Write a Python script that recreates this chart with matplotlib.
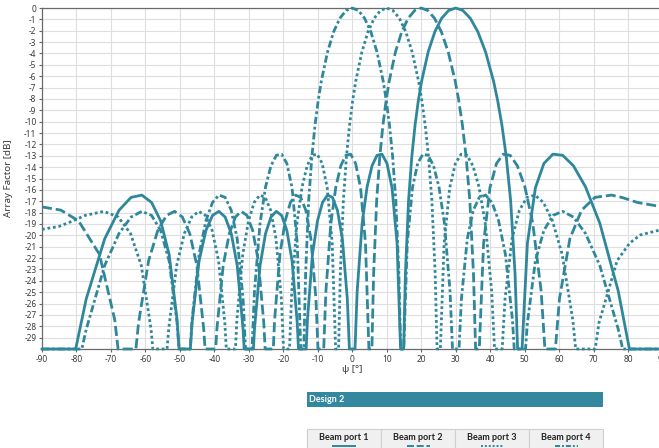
import matplotlib
matplotlib.use('Agg')
import matplotlib.pyplot as plt
from matplotlib.patches import Rectangle
from matplotlib.lines import Line2D

plt.rcParams['font.family'] = ['Noto Sans', 'DejaVu Sans']
plt.rcParams['axes.unicode_minus'] = False

# (psi [deg], array factor [dB]), clipped at -30 dB
port1 = [(-90, -30), (-80.23, -30), (-77.16, -25.58), (-71.81, -20.30), (-67.67, -17.80),
         (-64.16, -16.66), (-61.04, -16.46), (-58.21, -17.11), (-55.59, -18.72), (-53.13, -21.67),
         (-50.81, -27.43), (-50.24, -30),
         (-46.97, -30), (-46.47, -27.71), (-44.43, -22.24), (-42.45, -19.57), (-40.54, -18.25),
         (-38.68, -17.89), (-36.87, -18.39), (-35.10, -19.84), (-33.37, -22.65), (-31.67, -28.26),
         (-31.35, -30),
         (-28.67, -30), (-28.36, -28.26), (-26.74, -22.65), (-25.15, -19.84), (-23.58, -18.39),
         (-22.02, -17.89), (-20.49, -18.25), (-18.97, -19.57), (-17.46, -22.24), (-15.96, -27.71),
         (-15.60, -30),
         (-13.37, -30), (-13.00, -27.43), (-11.54, -21.67), (-10.08, -18.72), (-8.63, -17.11),
         (-7.18, -16.46), (-5.74, -16.66), (-4.30, -17.80), (-2.87, -20.30), (-1.43, -25.58),
         (-0.83, -30),
         (0.80, -30), (1.43, -24.90), (2.87, -18.93), (4.30, -15.74), (5.74, -13.88),
         (7.18, -12.96), (8.63, -12.86), (10.08, -13.68), (11.54, -15.82), (13.00, -20.70),
         (14.02, -30),
         (14.91, -30), (15.42, -23.4), (16.33, -16.95), (17.27, -13.10), (18.21, -10.33),
         (19.15, -8.19), (20.11, -6.46), (22.02, -3.87), (23.97, -2.08), (25.94, -0.90),
         (27.95, -0.22), (30, 0), (32.09, -0.22), (34.23, -0.90), (36.42, -2.08), (38.68, -3.87),
         (41.01, -6.46), (42.21, -8.19), (43.43, -10.33), (44.68, -13.10), (45.95, -16.95),
         (47.23, -23.4), (47.96, -30),
         (49.26, -30), (50.81, -20.70), (53.13, -15.82), (55.59, -13.68), (58.21, -12.86),
         (61.04, -12.96), (64.16, -13.88), (67.67, -15.74), (71.81, -18.93), (77.16, -24.90),
         (80.4, -30), (90, -30)]

port2 = [(-90, -17.5), (-84.55, -17.78), (-79.41, -18.72), (-73.33, -21.67), (-68.90, -27.43),
         (-67.93, -30),
         (-62.76, -30), (-62.00, -27.71), (-59.08, -22.24), (-56.41, -19.57), (-53.90, -18.25),
         (-51.54, -17.89), (-49.28, -18.39), (-47.14, -19.84), (-45.07, -22.65), (-43.08, -28.26),
         (-42.70, -30),
         (-39.62, -30), (-39.27, -28.26), (-37.44, -22.65), (-35.66, -19.84), (-33.91, -18.39),
         (-32.21, -17.89), (-30.53, -18.25), (-28.88, -19.57), (-27.26, -22.24), (-25.66, -27.71),
         (-25.27, -30),
         (-22.91, -30), (-22.52, -27.43), (-20.98, -21.67), (-19.45, -18.72), (-17.94, -17.11),
         (-16.44, -16.46), (-14.95, -16.66), (-13.47, -17.80), (-12.00, -20.30), (-10.54, -25.58),
         (-9.94, -30),
         (-8.28, -30), (-7.64, -24.90), (-6.20, -18.93), (-4.76, -15.74), (-3.32, -13.88),
         (-1.89, -12.96), (-0.46, -12.86), (0.98, -13.68), (2.41, -15.82), (3.84, -20.70),
         (4.83, -30),
         (5.70, -30), (6.20, -23.4), (7.08, -16.95), (7.98, -13.10), (8.89, -10.33),
         (9.80, -8.19), (10.71, -6.46), (12.53, -3.87), (14.37, -2.08), (16.23, -0.90),
         (18.11, -0.22), (20, 0), (21.92, -0.22), (23.86, -0.90), (25.83, -2.08), (27.84, -3.87),
         (29.89, -6.46), (30.92, -8.19), (31.97, -10.33), (33.03, -13.10), (34.11, -16.95),
         (35.17, -23.4), (35.78, -30),
         (36.85, -30), (38.10, -20.70), (39.94, -15.82), (41.84, -13.68), (43.79, -12.86),
         (45.81, -12.96), (47.90, -13.88), (50.08, -15.74), (52.37, -18.93), (54.79, -24.90),
         (55.89, -30),
         (58.93, -30), (60.11, -25.58), (63.13, -20.30), (66.50, -17.80), (70.39, -16.66),
         (75.25, -16.46), (78.38, -16.68), (82.76, -17.11), (90, -17.5)]

port3 = [(-90, -19.47), (-85.1, -19.22), (-81.43, -18.78), (-77.51, -18.25), (-72.05, -17.89),
         (-67.87, -18.39), (-64.33, -19.84), (-61.20, -22.65), (-58.36, -28.26), (-57.85, -30),
         (-53.72, -30), (-53.26, -28.26), (-50.93, -22.65), (-48.71, -19.84), (-46.58, -18.39),
         (-44.53, -17.89), (-42.56, -18.25), (-40.64, -19.57), (-38.78, -22.24), (-36.97, -27.71),
         (-36.53, -30),
         (-33.89, -30), (-33.46, -27.43), (-31.76, -21.67), (-30.09, -18.72), (-28.45, -17.11),
         (-26.83, -16.46), (-25.24, -16.66), (-23.66, -17.80), (-22.11, -20.30), (-20.57, -25.58),
         (-19.93, -30),
         (-18.20, -30), (-17.54, -24.90), (-16.04, -18.93), (-14.56, -15.74), (-13.08, -13.88),
         (-11.62, -12.96), (-10.16, -12.86), (-8.71, -13.68), (-7.26, -15.82), (-5.82, -20.70),
         (-4.82, -30),
         (-3.96, -30), (-3.46, -23.4), (-2.58, -16.95), (-1.69, -13.10), (-0.79, -10.33),
         (0.10, -8.19), (1.00, -6.46), (2.79, -3.87), (4.58, -2.08), (6.38, -0.90),
         (8.19, -0.22), (10, 0), (11.82, -0.22), (13.66, -0.90), (15.51, -2.08), (17.38, -3.87),
         (19.26, -6.46), (20.21, -8.19), (21.17, -10.33), (22.13, -13.10), (23.10, -16.95),
         (24.06, -23.4), (24.60, -30),
         (25.56, -30), (26.66, -20.70), (28.27, -15.82), (29.91, -13.68), (31.58, -12.86),
         (33.27, -12.96), (35.01, -13.88), (36.77, -15.74), (38.58, -18.93), (40.44, -24.90),
         (41.28, -30),
         (43.49, -30), (44.32, -25.58), (46.35, -20.30), (48.47, -17.80), (50.69, -16.66),
         (53.00, -16.46), (55.45, -17.11), (58.07, -18.72), (60.89, -21.67), (63.98, -27.43),
         (64.81, -30),
         (70.49, -30), (71.56, -27.71), (76.82, -22.24), (80.45, -20.69), (83.54, -19.97),
         (90, -19.47)]

port4 = [(-90, -30), (-78.45, -30), (-77.16, -28.26), (-71.81, -22.65), (-67.67, -19.84),
         (-64.16, -18.39), (-61.04, -17.89), (-58.21, -18.25), (-55.59, -19.57), (-53.13, -22.24),
         (-50.81, -27.71), (-50.26, -30),
         (-46.99, -30), (-46.47, -27.43), (-44.43, -21.67), (-42.45, -18.72), (-40.54, -17.11),
         (-38.68, -16.46), (-36.87, -16.66), (-35.10, -17.80), (-33.37, -20.30), (-31.67, -25.58),
         (-30.97, -30),
         (-29.08, -30), (-28.36, -24.90), (-26.74, -18.93), (-25.15, -15.74), (-23.58, -13.88),
         (-22.02, -12.96), (-20.49, -12.86), (-18.97, -13.68), (-17.46, -15.82), (-15.96, -20.70),
         (-14.94, -30),
         (-14.05, -30), (-13.53, -23.4), (-12.64, -16.95), (-11.72, -13.10), (-10.81, -10.33),
         (-9.90, -8.19), (-8.99, -6.46), (-7.18, -3.87), (-5.38, -2.08), (-3.58, -0.90),
         (-1.79, -0.22), (0, 0), (1.79, -0.22), (3.58, -0.90), (5.38, -2.08), (7.18, -3.87),
         (8.99, -6.46), (9.90, -8.19), (10.81, -10.33), (11.72, -13.10), (12.64, -16.95),
         (13.53, -23.4), (14.05, -30),
         (14.94, -30), (15.96, -20.70), (17.46, -15.82), (18.97, -13.68), (20.49, -12.86),
         (22.02, -12.96), (23.58, -13.88), (25.15, -15.74), (26.74, -18.93), (28.36, -24.90),
         (29.08, -30),
         (30.97, -30), (31.67, -25.58), (33.37, -20.30), (35.10, -17.80), (36.87, -16.66),
         (38.68, -16.46), (40.54, -17.11), (42.45, -18.72), (44.43, -21.67), (46.47, -27.43),
         (46.99, -30),
         (50.26, -30), (50.81, -27.71), (53.13, -22.24), (55.59, -19.57), (58.21, -18.25),
         (61.04, -17.89), (64.16, -18.39), (67.67, -19.84), (71.81, -22.65), (77.16, -28.26),
         (78.45, -30), (90, -30)]

ports = [port1, port2, port3, port4]
port_labels = ['Beam port 1', 'Beam port 2', 'Beam port 3', 'Beam port 4']
x_ticks = list(range(-90, 91, 10))
y_ticks = list(range(-29, 1))
design_name = 'Design 2'

# styles
TEAL = '#2f879c'
port_dashes = [None, (3.6, 1.4), (1.0, 1.0), (2.6, 1.0, 1.0, 1.0)]
BOLD_FONT = ['Lato', 'DejaVu Sans']

W, H = 659, 448

def fx(px):
    return px / W

def fy(py):
    return 1 - py / H

fig = plt.figure(figsize=(W / 100, H / 100), dpi=100)
ax = fig.add_axes([fx(42), fy(349), 620.5 / W, 341 / H])

for pts, dash in zip(ports, port_dashes):
    psi, af = zip(*pts)
    line, = ax.plot(psi, af, color=TEAL, lw=2.0, clip_on=False, zorder=3)
    if dash is not None:
        line.set_dashes(dash)

ax.set_xlim(-90, 90)
ax.set_ylim(-30, 0)
ax.set_xticks(x_ticks)
ax.set_yticks(y_ticks)
ax.set_xticklabels([str(t) for t in x_ticks])
ax.set_yticklabels([str(t) for t in y_ticks])
ax.grid(True, color='#dedede', lw=0.8)
ax.set_axisbelow(True)
ax.tick_params(labelsize=6, length=2.5, width=0.8, color='#666666',
               labelcolor='#3a3a3a', pad=1.5)
for s in ['left', 'bottom', 'top']:
    ax.spines[s].set_color('#6a6a6a')
    ax.spines[s].set_linewidth(0.9)
ax.spines['right'].set_visible(False)

fig.text(fx(9), fy(178), 'Array Factor [dB]', rotation=90, fontsize=7,
         color='#3a3a3a', ha='center', va='center')
fig.text(fx(352), fy(369), 'ψ [°]', fontsize=7, color='#3a3a3a',
         ha='center', va='center')

# design title bar
fig.add_artist(Rectangle((fx(307), fy(407)), 296 / W, 15 / H,
                         transform=fig.transFigure, color='#33879e', lw=0))
fig.text(fx(309), fy(399.5), design_name, fontsize=6.5, fontweight='bold',
         family=BOLD_FONT, color='white', ha='left', va='center')

# legend tabs
cell_w = 74.0
for i, (lab, dash) in enumerate(zip(port_labels, port_dashes)):
    x0 = 307 + i * cell_w
    fig.add_artist(Rectangle((fx(x0), fy(452)), cell_w / W, 23 / H,
                             transform=fig.transFigure, facecolor='#f0f0f0',
                             edgecolor='#cfcfcf', lw=0.8))
    cx = x0 + cell_w / 2
    fig.text(fx(cx), fy(437.5), lab, fontsize=6.5, fontweight='bold',
             family=BOLD_FONT, color='#222222', ha='center', va='center')
    sample = Line2D([fx(cx - 11.5), fx(cx + 11.5)], [fy(446), fy(446)],
                    transform=fig.transFigure, color=TEAL, lw=1.4)
    if dash is not None:
        sample.set_dashes(dash)
    fig.add_artist(sample)

fig.savefig('out.png', dpi=100)
